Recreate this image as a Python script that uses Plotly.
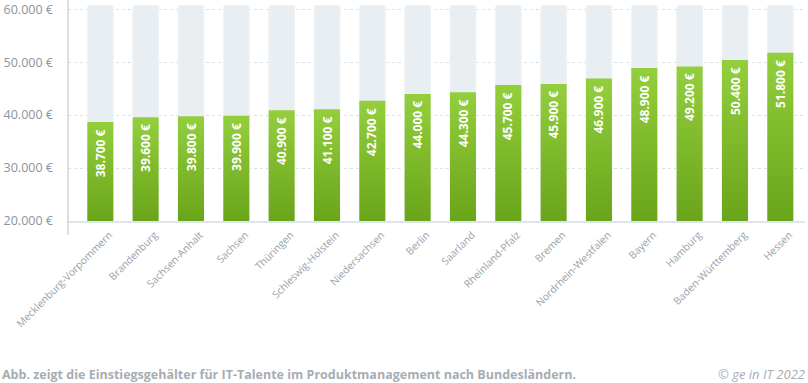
import plotly.graph_objects as go

states = ["Mecklenburg-Vorpommern", "Brandenburg", "Sachsen-Anhalt", "Sachsen", "Thüringen",
          "Schleswig-Holstein", "Niedersachsen", "Berlin", "Saarland", "Rheinland-Pfalz",
          "Bremen", "Nordrhein-Westfalen", "Bayern", "Hamburg", "Baden-Württemberg", "Hessen"]
salaries = [38700, 39600, 39800, 39900, 40900, 41100, 42700, 44000, 44300, 45700,
            45900, 46900, 48900, 49200, 50400, 51800]
y_tickvals = [20000, 30000, 40000, 50000, 60000]
y_ticktext = ["20.000 €", "30.000 €", "40.000 €", "50.000 €", "60.000 €"]

BASE = 20000
TOP = 60800
BW = 0.574

def fmt(v):
    return f"{v:,}".replace(",", ".") + " €"

fig = go.Figure()

# background bars
fig.add_trace(go.Bar(
    x=list(range(len(states))), y=[TOP - BASE] * len(states), base=BASE,
    width=BW, marker=dict(color="#e8eef2", line=dict(color="#f0f4f7", width=1)),
    hoverinfo="skip", showlegend=False,
))

# green gradient bars
for i, v in enumerate(salaries):
    fig.add_trace(go.Scatter(
        x=[i - BW / 2, i + BW / 2, i + BW / 2, i - BW / 2, i - BW / 2],
        y=[BASE, BASE, v, v, BASE],
        mode="lines", line=dict(width=0), fill="toself",
        fillgradient=dict(type="vertical",
                          colorscale=[[0, "#6aa41a"], [1, "#93cf3d"]]),
        hoverinfo="skip", showlegend=False,
    ))
    fig.add_annotation(
        x=i, y=v, xref="x", yref="y", text=fmt(v), textangle=-90,
        showarrow=False, yanchor="top", xanchor="center", yshift=-5,
        font=dict(color="white", size=12, family="Open Sans", weight="bold"),
    )

fig.update_layout(
    width=808, height=383,
    margin=dict(l=68, r=3, t=5, b=162, autoexpand=False),
    paper_bgcolor="white", plot_bgcolor="white",
    barcornerradius=3,
    font=dict(family="Open Sans", color="#8c949b"),
    xaxis=dict(
        range=[-0.713, 15.545], tickmode="array",
        tickvals=list(range(len(states))), ticktext=states,
        tickangle=-45, tickfont=dict(size=10.3, color="#9aa1a8"),
        showgrid=False, zeroline=False, showline=True, automargin=False,
        linecolor="#dde4ea", linewidth=2, ticks="", ticklabeloverflow="allow",
        ticklabelshift=9, ticklabelstandoff=2,
    ),
    yaxis=dict(
        range=[BASE, TOP], tickmode="array", tickvals=y_tickvals, ticktext=y_ticktext,
        tickfont=dict(size=12.5, color="#8c949b"), showgrid=True, automargin=False,
        gridcolor="#d5e2ea", griddash="dot", gridwidth=1,
        zeroline=False, showline=False, ticks="", ticklabelstandoff=14,
        ticklabeloverflow="allow",
    ),
    showlegend=False,
)

fig.add_shape(type="line", xref="paper", yref="paper", x0=0, x1=0, y0=-0.065, y1=1.03,
              line=dict(color="#cdd6de", width=1.5), layer="above")

fig.add_annotation(
    xref="paper", yref="paper", x=-68 / 737, y=-(374 - 221) / 216,
    xanchor="left", yanchor="middle", showarrow=False,
    text="<b>Abb. zeigt die Einstiegsgehälter für IT-Talente im Produktmanagement nach Bundesländern.</b>",
    font=dict(size=12.5, color="#a6adb3", family="Open Sans"),
)
fig.add_annotation(
    xref="paper", yref="paper", x=1.0 + 2 / 737, y=-(374 - 221) / 216,
    xanchor="right", yanchor="middle", showarrow=False,
    text="<i>© ge in IT 2022</i>",
    font=dict(size=13, color="#a6adb3", family="Open Sans"),
)

fig.write_html("out.html", config={"displayModeBar": False},
               post_script="document.body.style.margin='0';")
